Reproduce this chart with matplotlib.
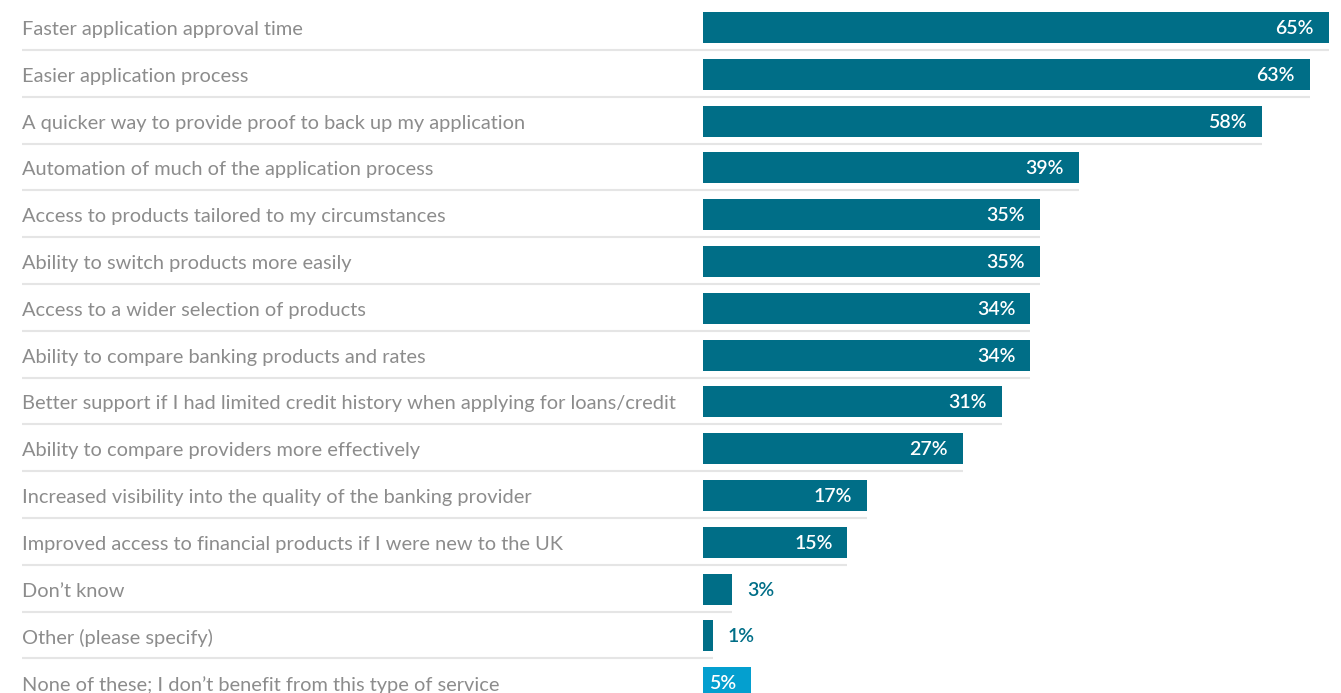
import matplotlib.pyplot as plt
from matplotlib.transforms import offset_copy

plt.rcParams['font.family'] = ['Lato', 'DejaVu Sans']

labels = [
    "Faster application approval time",
    "Easier application process",
    "A quicker way to provide proof to back up my application",
    "Automation of much of the application process",
    "Access to products tailored to my circumstances",
    "Ability to switch products more easily",
    "Access to a wider selection of products",
    "Ability to compare banking products and rates",
    "Better support if I had limited credit history when applying for loans/credit",
    "Ability to compare providers more effectively",
    "Increased visibility into the quality of the banking provider",
    "Improved access to financial products if I were new to the UK",
    "Don\u2019t know",
    "Other (please specify)",
    "None of these; I don\u2019t benefit from this type of service",
]
values = [65, 63, 58, 39, 35, 35, 34, 34, 31, 27, 17, 15, 3, 1, 5]

dark = "#006e87"
light = "#049fcf"
colors = [dark] * 14 + [light]

W, H = 1341, 693
fig = plt.figure(figsize=(W / 100, H / 100), dpi=100)
ax = fig.add_axes([0, 0, 1, 1])

# pixel geometry of the layout
px_per_unit = 9.63
x0_px = 703
label_px = 22
row_px = 46.8
first_px = 27.5

ax.set_xlim(-x0_px / px_per_unit, (W - x0_px) / px_per_unit)
ax.set_ylim((H - first_px) / row_px, -first_px / row_px)
ax.axis("off")

label_x = (label_px - x0_px) / px_per_unit
bar_h = 31 / row_px
sep_off = 22.5 / row_px

rows = range(len(values))
ax.barh(list(rows), values, height=bar_h, color=colors, zorder=2)

lab_tr = offset_copy(ax.transData, fig=fig, x=0, y=-2, units="dots")
for i, (lab, v) in enumerate(zip(labels, values)):
    ax.text(label_x, i, lab, transform=lab_tr, va="center", ha="left",
            fontsize=14.4, color="#8c8c8c")
    # separator under each row, running to the end of its bar
    if i < len(values) - 1:
        ax.plot([label_x, v], [i + sep_off, i + sep_off], color="#e5e5e5",
                lw=1.5, zorder=1, solid_capstyle="butt")
    txt = f"{v}%"
    if v >= 5:
        tr = offset_copy(ax.transData, fig=fig, x=-15, y=-1, units="dots")
        ax.text(v, i, txt, transform=tr, ha="right", va="center",
                fontsize=14, fontweight="semibold", color="white")
    else:
        tr = offset_copy(ax.transData, fig=fig, x=15, y=-1, units="dots")
        ax.text(v, i, txt, transform=tr, ha="left", va="center",
                fontsize=14, fontweight="semibold", color=dark)

fig.savefig("out.png", dpi=100)
